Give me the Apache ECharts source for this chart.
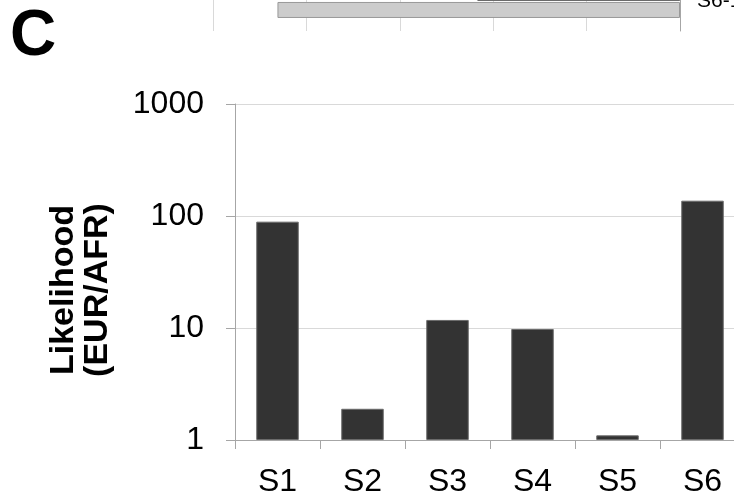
<!DOCTYPE html>
<html>
<head>
<meta charset="utf-8">
<script src="https://cdn.jsdelivr.net/npm/echarts@6/dist/echarts.min.js"></script>
<style>
  html, body { margin: 0; padding: 0; background: #ffffff; }
  #chartC { width: 734px; height: 498px; }
</style>
</head>
<body>
<div id="chartC"></div>
<script>
  // panel C values
  var categories = ['S1', 'S2', 'S3', 'S4', 'S5', 'S6'];
  var likelihood = [89, 1.9, 11.8, 9.8, 1.1, 137];
  var yTicks = [1, 10, 100, 1000];

  // bottom of the previous panel, cut off at the top
  var topCategories = ['S6-1'];
  var topGrey = [4.31];
  var topDark = [2.17];

  var font = 'Liberation Sans, Arial, sans-serif';
  var myChart = echarts.init(document.getElementById('chartC'));
  var option = {
    animation: false,
    backgroundColor: '#ffffff',
    grid: [
      { left: 235, top: 104, width: 510, height: 336, outerBoundsMode: 'none' },
      { left: 213, width: 467, top: -28, height: 59, outerBoundsMode: 'none' }
    ],
    graphic: [
      {
        type: 'text', left: 10, top: 5,
        style: { text: 'C', font: 'bold 64px ' + font, fill: '#000' }
      },
      {
        type: 'text', x: 81, y: 290, rotation: Math.PI / 2,
        style: {
          text: 'Likelihood\n(EUR/AFR)', font: 'bold 34px ' + font, fill: '#000',
          align: 'center', verticalAlign: 'middle', lineHeight: 34
        }
      }
    ],
    xAxis: [
      {
        gridIndex: 0, type: 'category', data: categories,
        axisLine: { lineStyle: { color: '#a6a6a6' } },
        axisTick: { show: true, length: 9, lineStyle: { color: '#a6a6a6' } },
        axisLabel: { fontSize: 32, fontFamily: font, color: '#000', margin: 26 }
      },
      {
        gridIndex: 1, type: 'value', inverse: true, min: 0, max: 5, interval: 1,
        axisLine: { show: false }, axisTick: { show: false }, axisLabel: { show: false },
        splitLine: { lineStyle: { color: '#d9d9d9' } }
      }
    ],
    yAxis: [
      {
        gridIndex: 0, type: 'log', logBase: 10, min: 1, max: 1000,
        axisLine: { show: true, lineStyle: { color: '#a6a6a6' } },
        axisTick: { show: true, length: 9, lineStyle: { color: '#a6a6a6' } },
        minorTick: { show: false },
        axisLabel: {
          fontSize: 32, fontFamily: font, color: '#000', margin: 31,
          formatter: function (v) { return yTicks.indexOf(v) >= 0 ? String(v) : ''; }
        },
        splitLine: { lineStyle: { color: '#d9d9d9' } }
      },
      {
        gridIndex: 1, type: 'category', data: topCategories, position: 'right',
        axisLine: { lineStyle: { color: '#a6a6a6' } },
        axisTick: { length: 6, lineStyle: { color: '#a6a6a6' } },
        axisLabel: {
          fontSize: 21, fontFamily: font, color: '#000', margin: 17,
          padding: [14, 0, 0, 0]
        }
      }
    ],
    series: [
      {
        type: 'bar', xAxisIndex: 0, yAxisIndex: 0, data: likelihood,
        barWidth: '50%',
        itemStyle: { color: '#333333', borderColor: '#6b6b6b', borderWidth: 1 }
      },
      {
        type: 'bar', xAxisIndex: 1, yAxisIndex: 1, data: topDark,
        barWidth: 16, barGap: '6%',
        itemStyle: { color: '#333333', borderColor: '#6b6b6b', borderWidth: 1 }
      },
      {
        type: 'bar', xAxisIndex: 1, yAxisIndex: 1, data: topGrey,
        barWidth: 16, barGap: '6%',
        itemStyle: { color: '#cccccc', borderColor: '#999999', borderWidth: 1 }
      }
    ]
  };
  myChart.setOption(option);
</script>
</body>
</html>
